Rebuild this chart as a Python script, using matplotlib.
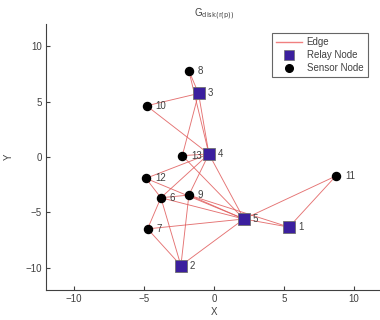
import matplotlib
matplotlib.use("Agg")
import matplotlib.pyplot as plt
from matplotlib.lines import Line2D

plt.rcParams["font.family"] = ["Liberation Sans", "DejaVu Sans"]

# ── Data ──────────────────────────────────────────────────────────────────────
node_ids = [1, 2, 3, 4, 5, 6, 7, 8, 9, 10, 11, 12, 13]
node_x = [5.36, -2.36, -1.10, -0.36, 2.14, -3.79, -4.74, -1.79, -1.79, -4.81, 8.71, -4.86, -2.26]
node_y = [-6.33, -9.80, 5.73, 0.27, -5.60, -3.68, -6.49, 7.78, -3.44, 4.62, -1.72, -1.93, 0.12]
relay_ids = [1, 2, 3, 4, 5]

edges = [
    (8, 3), (8, 4), (3, 4), (10, 3), (10, 4), (3, 13),
    (13, 4), (12, 4), (6, 4), (9, 4), (4, 5), (13, 5),
    (12, 6), (12, 5), (6, 9), (6, 5), (6, 7), (6, 2),
    (9, 5), (9, 1), (9, 2), (7, 5), (7, 2), (2, 5),
    (5, 1), (5, 11), (1, 11),
]

x_ticks = [-10, -5, 0, 5, 10]
y_ticks = [-10, -5, 0, 5, 10]

EDGE_C = "#e05a5a"
RELAY_C = "#3b1f9e"
GREY = "#404040"

pos = {n: (x, y) for n, x, y in zip(node_ids, node_x, node_y)}

# ── Plot ──────────────────────────────────────────────────────────────────────
fig = plt.figure(figsize=(3.8, 3.2), dpi=100)
ax = fig.add_axes([0.121, 0.094, 0.884, 0.831])

for a, b in edges:
    ax.plot([pos[a][0], pos[b][0]], [pos[a][1], pos[b][1]],
            color=EDGE_C, lw=0.65, alpha=0.85, zorder=1)

rx = [pos[n][0] for n in relay_ids]
ry = [pos[n][1] for n in relay_ids]
sx = [pos[n][0] for n in node_ids if n not in relay_ids]
sy = [pos[n][1] for n in node_ids if n not in relay_ids]

ax.plot(sx, sy, "o", ms=5.8, color="black", zorder=3)
ax.plot(rx, ry, "s", ms=8, color=RELAY_C, mec="#707070", mew=0.6, zorder=3)

for n in node_ids:
    ax.annotate(str(n), pos[n], xytext=(6.5, 0), textcoords="offset points",
                va="center", ha="left", fontsize=7, color=GREY, zorder=4)

ax.set_xlim(-12, 12)
ax.set_ylim(-12, 12)
ax.set_xticks(x_ticks)
ax.set_yticks(y_ticks)
ax.tick_params(direction="in", length=3, labelsize=7, colors=GREY, pad=3)
for side in ["top", "right"]:
    ax.spines[side].set_visible(False)
for side in ["left", "bottom"]:
    ax.spines[side].set_color(GREY)
    ax.spines[side].set_linewidth(0.8)

ax.set_xlabel("X", fontsize=7, color=GREY, labelpad=2)
ax.set_ylabel("Y", fontsize=7, color=GREY, labelpad=8)
ax.set_title(r"G$_{\mathrm{disk(r(p))}}$", fontsize=7, color=GREY, pad=5)

handles = [
    Line2D([], [], color="#f08080", lw=1.0, label="Edge"),
    Line2D([], [], ls="", marker="s", ms=7.5, color=RELAY_C, mec="#707070", mew=0.5, label="Relay Node"),
    Line2D([], [], ls="", marker="o", ms=5.5, color="black", label="Sensor Node"),
]
leg = ax.legend(handles=handles, loc="upper right", bbox_to_anchor=(0.972, 0.985),
                fontsize=7, frameon=True, fancybox=False, handlelength=2.6,
                borderpad=0.45, labelspacing=0.3, handletextpad=0.5)
leg.get_frame().set_edgecolor(GREY)
leg.get_frame().set_linewidth(0.8)
for t in leg.get_texts():
    t.set_color(GREY)

fig.savefig("out.png", dpi=100)
